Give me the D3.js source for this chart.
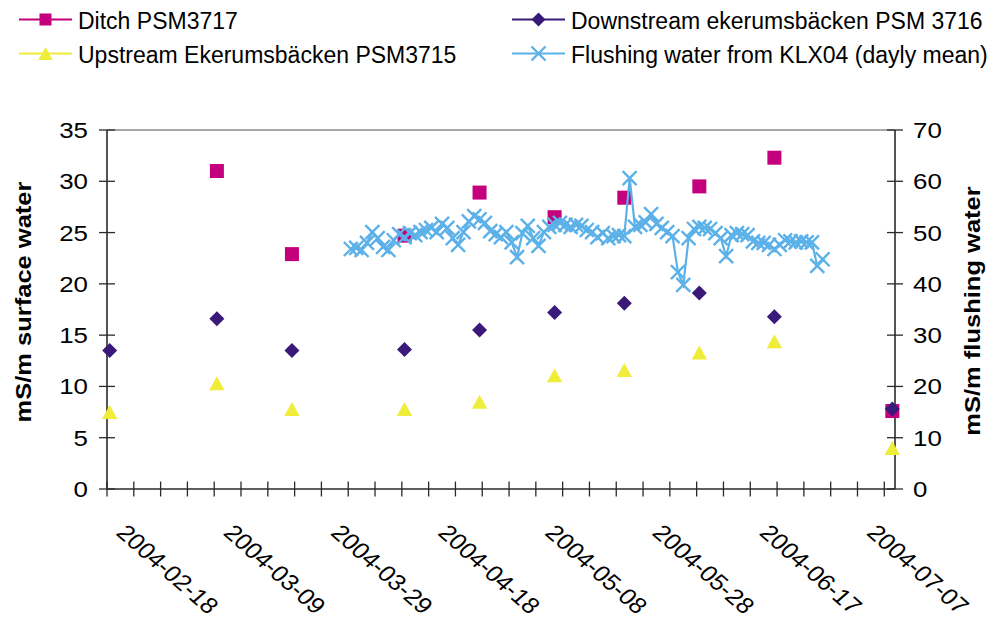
<!DOCTYPE html>
<html><head><meta charset="utf-8">
<script src="https://cdn.jsdelivr.net/npm/d3@7"></script>
<style>
body{margin:0;background:#fff}
svg{display:block}
text{font-family:"Liberation Sans",Arial,Helvetica,sans-serif;fill:#000}
</style>
</head><body>
<svg id="chart" width="995" height="621"></svg>
<script>
// ---------- data ----------
const sampleDates = ["2004-02-18","2004-03-09","2004-03-23","2004-04-13","2004-04-27",
                     "2004-05-11","2004-05-24","2004-06-07","2004-06-21","2004-07-13"];
const ditch      = [null, 31.0, 22.9, 24.7, 28.9, 26.5, 28.4, 29.5, 32.3, 7.6];
const downstream = [13.5, 16.6, 13.5, 13.6, 15.5, 17.2, 18.1, 19.1, 16.8, 7.8];
const upstream   = [7.5, 10.3, 7.8, 7.8, 8.5, 11.1, 11.6, 13.3, 14.4, 4.0];

const flushStart = "2004-04-03"; // daily means, one value per day from this date
const flushing = [
  46.8, 47.0, 46.6, 48.0, 50.1, 48.9, 47.2, 46.6, 48.5, 49.7,
  49.1, 49.9, 49.5, 50.1, 50.5, 50.9, 50.1, 51.7, 50.9, 48.9,
  47.6, 50.1, 52.2, 53.2, 52.6, 51.9, 50.3, 49.7, 49.1, 50.1,
  48.1, 45.2, 49.9, 51.3, 48.9, 47.4, 50.1, 51.1, 51.5, 51.9,
  51.5, 51.1, 51.5, 51.3, 50.5, 50.1, 49.1, 49.9, 48.9, 49.3,
  49.5, 49.3, 60.6, 51.1, 51.5, 52.0, 53.6, 51.7, 50.9, 50.1,
  49.3, 42.3, 39.8, 48.9, 50.7, 51.1, 50.9, 50.7, 49.9, 48.9,
  45.4, 49.5, 49.9, 49.7, 49.5, 48.3, 48.0, 48.0, 47.6, 46.8,
  47.6, 48.5, 48.3, 48.1, 48.3, 48.1, 48.1, 43.5, 44.8
];

const xLabels = ["2004-02-18","2004-03-09","2004-03-29","2004-04-18",
                 "2004-05-08","2004-05-28","2004-06-17","2004-07-07"];
const xDomain = ["2004-02-18","2004-07-14"];
const leftTicks  = [0,5,10,15,20,25,30,35];
const rightTicks = [0,10,20,30,40,50,60,70];

const seriesNames = ["Ditch PSM3717","Upstream Ekerumsbäcken PSM3715",
                     "Downstream ekerumsbäcken PSM 3716","Flushing water from KLX04 (dayly mean)"];

// ---------- setup ----------
const parse = d3.timeParse("%Y-%m-%d");
const C = {ditch:"#C4007C", up:"#F0EC3A", down:"#3A1A78", flush:"#5CB1E8", axis:"#2a2a2a"};
const L = 107, R = 895, T = 130, B = 489;

const svg = d3.select("#chart");
const x = d3.scaleTime().domain(xDomain.map(parse)).range([L, R]);
const yL = d3.scaleLinear().domain([0,35]).range([B, T]);
const yR = d3.scaleLinear().domain([0,70]).range([B, T]);
const xp = d => x(d3.timeHour.offset(d, 12)); // points sit in the middle of their day

const samples = sampleDates.map((s,i)=>({date:parse(s), ditch:ditch[i], down:downstream[i], up:upstream[i]}));
const fStart = parse(flushStart);
const flushData = flushing.map((v,i)=>({date:d3.timeDay.offset(fStart,i), v}));

// ---------- frame ----------
svg.append("line").attr("x1",L).attr("x2",R).attr("y1",T).attr("y2",T)
   .attr("stroke","#8a8a8a").attr("stroke-width",1.6);

// left axis
const gL = svg.append("g");
gL.append("line").attr("x1",L).attr("x2",L).attr("y1",T).attr("y2",B).attr("stroke",C.axis).attr("stroke-width",1.6);
leftTicks.forEach(t=>{
  gL.append("line").attr("x1",L-8).attr("x2",L+8).attr("y1",yL(t)).attr("y2",yL(t)).attr("stroke",C.axis).attr("stroke-width",1.3);
  gL.append("text").attr("text-anchor","end").attr("font-size",22.5)
    .attr("transform",`translate(88,${yL(t)+8}) scale(1.15,1)`).text(t);
});
// right axis
const gR = svg.append("g");
gR.append("line").attr("x1",R).attr("x2",R).attr("y1",T).attr("y2",B).attr("stroke",C.axis).attr("stroke-width",1.6);
rightTicks.forEach(t=>{
  gR.append("line").attr("x1",R-8).attr("x2",R+8).attr("y1",yR(t)).attr("y2",yR(t)).attr("stroke",C.axis).attr("stroke-width",1.3);
  gR.append("text").attr("text-anchor","start").attr("font-size",22.5)
    .attr("transform",`translate(913,${yR(t)+8}) scale(1.15,1)`).text(t);
});
// bottom axis
const gB = svg.append("g");
gB.append("line").attr("x1",L).attr("x2",R).attr("y1",B).attr("y2",B).attr("stroke",C.axis).attr("stroke-width",1.6);
const minorTicks = d3.timeDay.range(x.domain()[0], x.domain()[1], 1).filter((d,i)=>i%5===0);
minorTicks.forEach(d=>{
  gB.append("line").attr("x1",x(d)).attr("x2",x(d)).attr("y1",B-7.5).attr("y2",B+7.5).attr("stroke",C.axis).attr("stroke-width",1.3);
});
xLabels.forEach(s=>{
  const d = parse(s);
  gB.append("text").attr("text-anchor","start").attr("font-size",22.5)
    .attr("transform",`translate(${x(d)+8},534) scale(1.14,1) rotate(45)`).text(s);
});

// axis titles
svg.append("text").attr("font-weight","bold").attr("font-size",25.5).attr("text-anchor","middle")
   .attr("transform","translate(31,302) rotate(-90) scale(1,0.87)").text("mS/m surface water");
svg.append("text").attr("font-weight","bold").attr("font-size",25.5).attr("text-anchor","middle")
   .attr("transform","translate(980,311) rotate(-90) scale(1,0.87)").text("mS/m flushing water");

// ---------- marker helpers ----------
const sq = (g,cx,cy,s,col)=>g.append("rect").attr("x",cx-s/2).attr("y",cy-s/2).attr("width",s).attr("height",s).attr("fill",col);
const tri = (g,cx,cy,s,col)=>g.append("path").attr("d",`M${cx},${cy-s/2}L${cx+s*0.55},${cy+s/2}L${cx-s*0.55},${cy+s/2}Z`).attr("fill",col);
const dia = (g,cx,cy,s,col)=>g.append("path").attr("d",`M${cx},${cy-s/2}L${cx+s/2},${cy}L${cx},${cy+s/2}L${cx-s/2},${cy}Z`).attr("fill",col);
const crs = (g,cx,cy,s,col)=>g.append("path").attr("d",`M${cx-s/2},${cy-s/2}L${cx+s/2},${cy+s/2}M${cx-s/2},${cy+s/2}L${cx+s/2},${cy-s/2}`)
   .attr("stroke",col).attr("stroke-width",2.4).attr("fill","none");

// ---------- series ----------
const gD = svg.append("g");
samples.filter(d=>d.ditch!=null).forEach(d=>sq(gD, xp(d.date), yL(d.ditch), 14, C.ditch));
const gU = svg.append("g");
samples.forEach(d=>tri(gU, xp(d.date), yL(d.up), 14, C.up));
const gDn = svg.append("g");
samples.forEach(d=>dia(gDn, xp(d.date), yL(d.down), 15, C.down));

const gF = svg.append("g");
gF.append("path").datum(flushData)
  .attr("d", d3.line().x(d=>xp(d.date)).y(d=>yR(d.v)))
  .attr("fill","none").attr("stroke",C.flush).attr("stroke-width",2.2);
flushData.forEach(d=>crs(gF, xp(d.date), yR(d.v), 14, C.flush));

// ---------- legend ----------
const leg = [
  {name:seriesNames[0], col:C.ditch, mk:sq,  x:19,  y:19.5, s:12},
  {name:seriesNames[1], col:C.up,    mk:tri, x:19,  y:53.5, s:13},
  {name:seriesNames[2], col:C.down,  mk:dia, x:512, y:19.5, s:14},
  {name:seriesNames[3], col:C.flush, mk:crs, x:512, y:53.5, s:14}
];
const gLeg = svg.append("g");
leg.forEach(e=>{
  gLeg.append("line").attr("x1",e.x).attr("x2",e.x+53).attr("y1",e.y).attr("y2",e.y).attr("stroke",e.col).attr("stroke-width",2.2);
  e.mk(gLeg, e.x+26.5, e.y, e.s, e.col);
  gLeg.append("text").attr("x",e.x+59).attr("y",e.y+9.5).attr("font-size",23).text(e.name);
});
</script>
</body></html>
